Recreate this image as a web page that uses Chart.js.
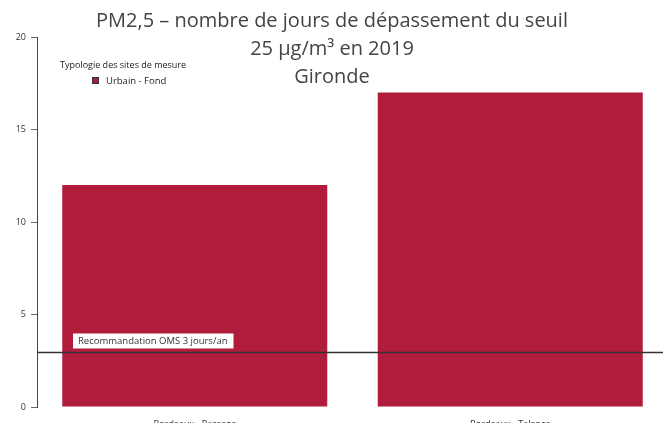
<!DOCTYPE html>
<html lang="fr">
<head>
<meta charset="utf-8">
<script src="https://cdn.jsdelivr.net/npm/chart.js@4"></script>
<style>
  html, body { margin: 0; padding: 0; background: #fff; overflow: hidden; }
  #wrap { position: relative; width: 668px; height: 430px; }
</style>
</head>
<body>
<div id="wrap"><canvas id="pm25Chart"></canvas></div>
<script>
// Jours de dépassement PM2,5 par station
const stations = ['Bordeaux - Bassens', 'Bordeaux - Talence'];
const joursDepassement = [12, 17];
const typologie = 'Urbain - Fond';
const yTicks = [0, 5, 10, 15, 20];
const seuilOMS = 3;
const titreLignes = ['PM2,5 – nombre de jours de dépassement du seuil', '25 µg/m³ en 2019', 'Gironde'];

const FONT = '"Open Sans", "Noto Sans", sans-serif';
const ROUGE = '#b01c3b';

// Titre superposé à la zone de tracé
const titrePlugin = {
    id: 'titre',
    afterDraw(chart) {
        const ctx = chart.ctx;
        ctx.save();
        ctx.fillStyle = '#444';
        ctx.font = '20px ' + FONT;
        ctx.textAlign = 'center';
        ctx.textBaseline = 'middle';
        titreLignes.forEach((l, i) => ctx.fillText(l, 332, 21 + i * 28));
        ctx.restore();
    }
};

// Légende : titre + carré de couleur
const legendePlugin = {
    id: 'legende',
    afterDraw(chart) {
        const ctx = chart.ctx;
        const ds = chart.data.datasets[0];
        ctx.save();
        ctx.font = '9px ' + FONT;
        ctx.fillStyle = '#222';
        ctx.textBaseline = 'middle';
        ctx.fillText('Typologie des sites de mesure', 60, 65);
        ctx.fillStyle = ds.backgroundColor;
        ctx.fillRect(92, 77, 7, 7);
        ctx.strokeStyle = '#333';
        ctx.lineWidth = 1;
        ctx.strokeRect(92.5, 77.5, 6, 6);
        ctx.fillStyle = '#222';
        ctx.font = '9.5px ' + FONT;
        ctx.fillText(ds.label, 106, 81);
        ctx.restore();
    }
};

// Ligne de recommandation OMS
const seuilPlugin = {
    id: 'seuil',
    afterDatasetsDraw(chart) {
        const ctx = chart.ctx;
        const y = Math.round(chart.scales.y.getPixelForValue(seuilOMS)) + 0.5;
        ctx.save();
        ctx.strokeStyle = '#333';
        ctx.lineWidth = 1.3;
        ctx.beginPath();
        ctx.moveTo(chart.chartArea.left, y);
        ctx.lineTo(663, y);
        ctx.stroke();

        const txt = 'Recommandation OMS ' + seuilOMS + ' jours/an';
        ctx.font = '9.5px ' + FONT;
        const w = ctx.measureText(txt).width;
        ctx.fillStyle = '#fff';
        ctx.fillRect(73, y - 19, w + 11, 15);
        ctx.fillStyle = '#333';
        ctx.textBaseline = 'middle';
        ctx.fillText(txt, 78, y - 11.5);
        ctx.restore();
    }
};

new Chart(document.getElementById('pm25Chart'), {
    type: 'bar',
    data: {
        labels: stations,
        datasets: [{
            label: typologie,
            data: joursDepassement,
            backgroundColor: ROUGE,
            borderWidth: 0,
            barPercentage: 0.84,
            categoryPercentage: 1
        }]
    },
    options: {
        responsive: true,
        maintainAspectRatio: false,
        animation: false,
        layout: { padding: { top: 37, right: 0, left: 0, bottom: 0 } },
        plugins: {
            legend: { display: false },
            title: { display: false },
            tooltip: { enabled: false }
        },
        scales: {
            y: {
                min: 0,
                max: 20,
                afterFit: s => { s.width = 37; },
                afterBuildTicks: s => { s.ticks = yTicks.map(v => ({ value: v })); },
                border: { display: true, color: '#444', width: 1 },
                grid: { drawOnChartArea: false, drawTicks: true, tickLength: 6, color: '#666' },
                ticks: { color: '#333', font: { family: FONT, size: 9 }, padding: 5 }
            },
            x: {
                afterFit: s => { s.height = 23; },
                border: { display: false },
                grid: { display: false },
                ticks: { color: '#333', font: { family: FONT, size: 9 }, padding: 4 }
            }
        }
    },
    plugins: [seuilPlugin, legendePlugin, titrePlugin]
});
</script>
</body>
</html>
